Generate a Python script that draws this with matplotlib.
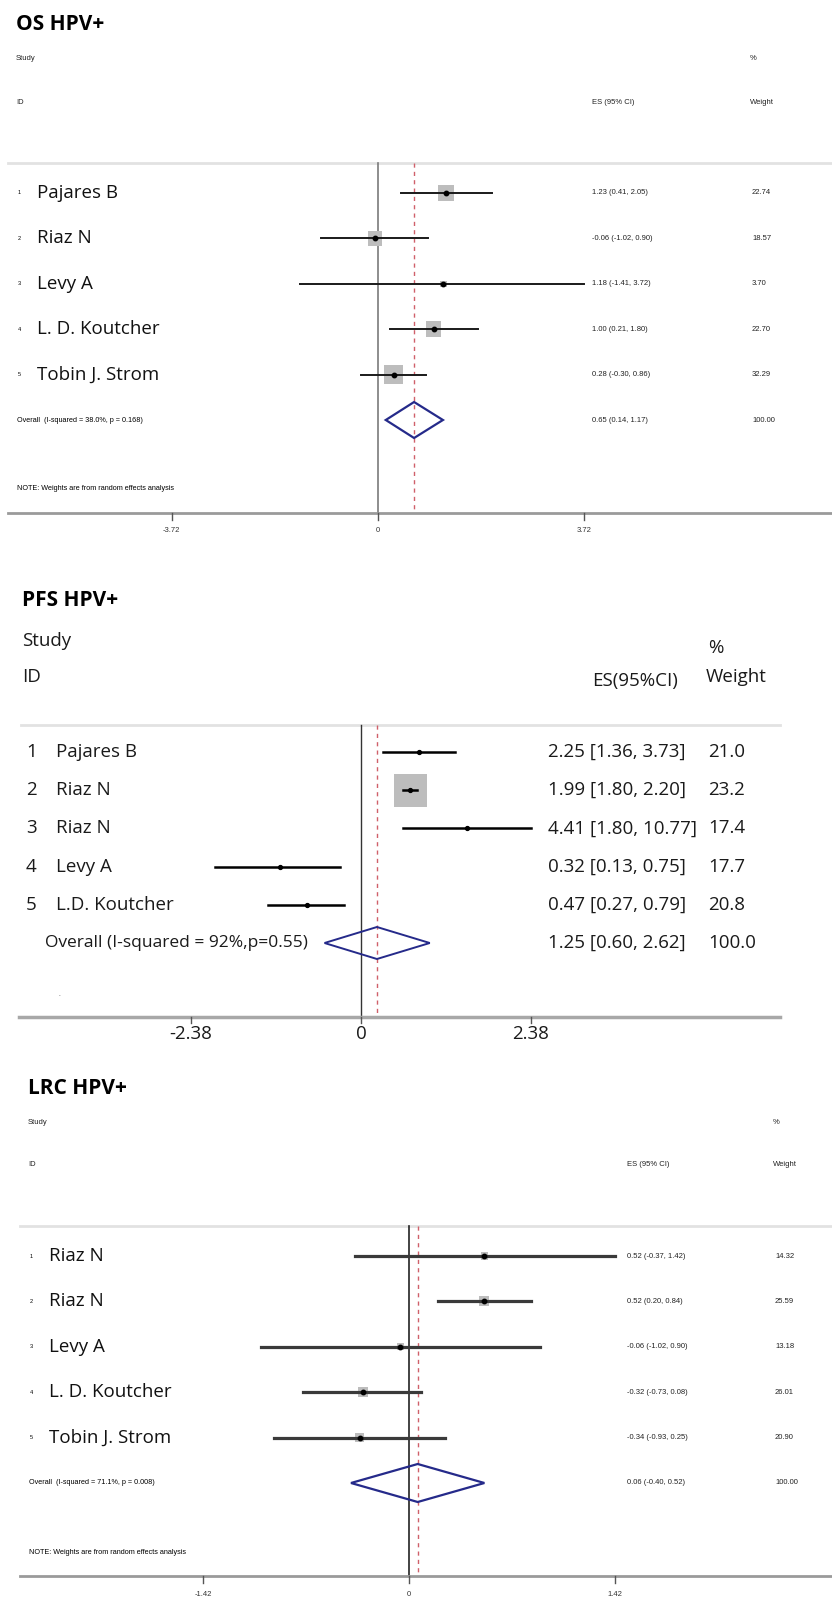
import numpy as np
import matplotlib.pyplot as plt
from matplotlib.patches import Polygon, Rectangle

W, H = 832, 1603

# OS HPV+ (linear scale)
os_study = ["Pajares B", "Riaz N", "Levy A", "L. D. Koutcher", "Tobin J. Strom"]
os_es = [1.23, -0.06, 1.18, 1.00, 0.28]
os_lo = [0.41, -1.02, -1.41, 0.21, -0.30]
os_hi = [2.05, 0.90, 3.72, 1.80, 0.86]
os_weight = [22.74, 18.57, 3.70, 22.70, 32.29]
os_overall = [0.65, 0.14, 1.17]
os_overall_text = "Overall  (I-squared = 38.0%, p = 0.168)"
os_ticks = [-3.72, 0, 3.72]

# PFS HPV+ (ratios, drawn on log scale)
pfs_study = ["Pajares B", "Riaz N", "Riaz N", "Levy A", "L.D. Koutcher"]
pfs_es = [2.25, 1.99, 4.41, 0.32, 0.47]
pfs_lo = [1.36, 1.80, 1.80, 0.13, 0.27]
pfs_hi = [3.73, 2.20, 10.77, 0.75, 0.79]
pfs_weight = [21.0, 23.2, 17.4, 17.7, 20.8]
pfs_overall = [1.25, 0.60, 2.62]
pfs_overall_text = "Overall (I-squared = 92%,p=0.55)"
pfs_ticks = [-2.38, 0, 2.38]

# LRC HPV+ (linear scale)
lrc_study = ["Riaz N", "Riaz N", "Levy A", "L. D. Koutcher", "Tobin J. Strom"]
lrc_es = [0.52, 0.52, -0.06, -0.32, -0.34]
lrc_lo = [-0.37, 0.20, -1.02, -0.73, -0.93]
lrc_hi = [1.42, 0.84, 0.90, 0.08, 0.25]
lrc_weight = [14.32, 25.59, 13.18, 26.01, 20.90]
lrc_overall = [0.06, -0.40, 0.52]
lrc_overall_text = "Overall  (I-squared = 71.1%, p = 0.008)"
lrc_ticks = [-1.42, 0, 1.42]

NOTE = "NOTE: Weights are from random effects analysis"
NAVY = "#252a8a"
RED = "#d0606a"
BOXC = "#bdbdbd"
SMALL = ["Liberation Sans", "DejaVu Sans"]
BIG = ["Open Sans", "DejaVu Sans"]

fig = plt.figure(figsize=(W / 100, H / 100), dpi=100)


def new_axes(x0, ppu):
    ax = fig.add_axes([0, 0, 1, 1])
    ax.set_xlim(-x0 / ppu, (W - x0) / ppu)
    ax.set_ylim(H, 0)
    ax.axis("off")
    ax.patch.set_alpha(0)
    return ax


def stata_panel(title, study, es, lo, hi, weight, overall, overall_text, ticks,
                x0, ppu, top, ci_color, ci_lw, box_k, line_left, dmd_h, zero_color,
                col_es, col_w):
    ax = new_axes(x0, ppu)
    px = lambda p: (p - x0) / ppu
    rows = top + 168 + 45.4 * np.arange(len(study) + 1)
    ytop, yaxis = top + 138, top + 488
    small = dict(fontsize=5.5, family=SMALL, va="center", color="#222222")

    ax.text(px(line_left + 8), top, title, fontsize=15, fontweight="bold", family=BIG,
            va="center")
    ax.text(px(line_left + 8), top + 34, "Study", **small)
    ax.text(px(col_w - 2), top + 34, "%", **small)
    ax.text(px(line_left + 8), top + 77, "ID", **small)
    ax.text(px(col_es), top + 77, "ES (95% CI)", **small)
    ax.text(px(col_w - 2), top + 77, "Weight", **small)

    ax.plot([px(line_left), px(W)], [ytop, ytop], color="#e2e2e2", lw=2)
    ax.plot([0, 0], [ytop, yaxis], color=zero_color, lw=1.2)
    ax.plot([overall[0]] * 2, [ytop, yaxis], color=RED, lw=1, ls=(0, (3, 3)))

    for i, name in enumerate(study):
        y = rows[i]
        side = box_k * np.sqrt(weight[i])
        ax.add_patch(Rectangle((es[i] - side / 2 / ppu, y - side / 2), side / ppu, side,
                               color=BOXC, lw=0, zorder=2))
        ax.plot([lo[i], hi[i]], [y, y], color=ci_color, lw=ci_lw, zorder=3)
        ax.plot(es[i], y, "o", color="black", ms=3.2, zorder=4)
        ax.text(px(line_left + 10), y, str(i + 1), fontsize=4, family=SMALL, va="center")
        ax.text(px(line_left + 29), y, name, fontsize=13.5, family=BIG, va="center",
                color="#111111")
        ax.text(px(col_es), y, "%.2f (%.2f, %.2f)" % (es[i], lo[i], hi[i]), **small)
        ax.text(px(col_w), y, "%.2f" % weight[i], **small)

    yo = rows[-1]
    m, l, h = overall
    ax.add_patch(Polygon([(l, yo), (m, yo - dmd_h), (h, yo), (m, yo + dmd_h)], closed=True,
                         fill=False, edgecolor=NAVY, lw=1.6, zorder=4))
    ax.text(px(line_left + 9), yo, overall_text, fontsize=5.2, family=SMALL, va="center")
    ax.text(px(col_es), yo, "%.2f (%.2f, %.2f)" % (m, l, h), **small)
    ax.text(px(col_w), yo, "100.00", **small)
    ax.text(px(line_left + 9), yaxis - 24, NOTE, fontsize=5.2, family=SMALL, va="center")

    ax.plot([px(line_left), px(W)], [yaxis, yaxis], color="#9a9a9a", lw=2)
    for t in ticks:
        ax.plot([t, t], [yaxis, yaxis + 7], color="#555555", lw=1)
        ax.text(t, yaxis + 18, "%g" % t, fontsize=5.5, family=SMALL, ha="center",
                va="center", color="#333333")


# OS
stata_panel("OS HPV+", os_study, os_es, os_lo, os_hi, os_weight, os_overall,
            os_overall_text, os_ticks, x0=378, ppu=55.5, top=25, ci_color="#1a1a1a",
            ci_lw=1.4, box_k=3.3, line_left=8, dmd_h=18, zero_color="#7a7a7a",
            col_es=592, col_w=752)

# LRC
stata_panel("LRC HPV+", lrc_study, lrc_es, lrc_lo, lrc_hi, lrc_weight, lrc_overall,
            lrc_overall_text, lrc_ticks, x0=409, ppu=145, top=1088, ci_color="#3a3a3a",
            ci_lw=2.3, box_k=2.0, line_left=20, dmd_h=19, zero_color="#222222",
            col_es=627, col_w=775)

# PFS, drawn on the log of the ratio
x0, ppu = 361, 71.4
ax = new_axes(x0, ppu)
px = lambda p: (p - x0) / ppu
rows = 752 + 38.2 * np.arange(len(pfs_study) + 1)
ytop, yaxis = 725, 1017
lg_es, lg_lo, lg_hi = np.log(pfs_es), np.log(pfs_lo), np.log(pfs_hi)
txt = dict(fontsize=13.5, family=BIG, va="center", color="#1a1a1a")

ax.text(px(22), 600, "PFS HPV+", fontsize=15, fontweight="bold", family=BIG, va="center")
ax.text(px(22), 641, "Study", **txt)
ax.text(px(708), 648, "%", **txt)
ax.text(px(22), 677, "ID", **txt)
ax.text(px(592), 681, "ES(95%CI)", **txt)
ax.text(px(706), 677, "Weight", **txt)

ax.plot([px(21), px(780)], [ytop, ytop], color="#e2e2e2", lw=2)
ax.plot([0, 0], [ytop, yaxis], color="#333333", lw=1)
ax.plot([np.log(pfs_overall[0])] * 2, [ytop, yaxis], color=RED, lw=1, ls=(0, (3, 3)))

for i, name in enumerate(pfs_study):
    y = rows[i]
    if pfs_weight[i] == max(pfs_weight):
        side = 33
        ax.add_patch(Rectangle((lg_es[i] - side / 2 / ppu, y - side / 2), side / ppu, side,
                               color=BOXC, lw=0, zorder=2))
    ax.plot([lg_lo[i], lg_hi[i]], [y, y], color="black", lw=1.8, zorder=3)
    ax.plot(lg_es[i], y, "o", color="black", ms=2.8, zorder=4)
    ax.text(px(26), y, str(i + 1), **txt)
    ax.text(px(56), y, name, **txt)
    ax.text(px(548), y, "%.2f [%.2f, %.2f]" % (pfs_es[i], pfs_lo[i], pfs_hi[i]), **txt)
    ax.text(px(708), y, "%.1f" % pfs_weight[i], **txt)

yo = rows[-1]
m, l, h = np.log(pfs_overall)
ax.add_patch(Polygon([(l, yo), (m, yo - 16), (h, yo), (m, yo + 16)], closed=True,
                     fill=False, edgecolor=NAVY, lw=1.4, zorder=4))
ax.text(px(45), yo, pfs_overall_text, fontsize=12.5, family=BIG, va="center",
        color="#1a1a1a")
ax.text(px(548), yo, "%.2f [%.2f, %.2f]" % tuple(pfs_overall), **txt)
ax.text(px(708), yo, "100.0", **txt)
ax.text(px(58), yo + 50, ".", fontsize=8, color="#999999", va="center")

ax.plot([px(19), px(780)], [yaxis, yaxis], color="#a8a8a8", lw=2.5)
for t in pfs_ticks:
    ax.plot([t, t], [yaxis, yaxis + 6], color="#555555", lw=1)
    ax.text(t, yaxis + 17, "%g" % t, fontsize=13.5, family=BIG, ha="center", va="center",
            color="#1a1a1a")

fig.savefig("out.png", dpi=100, facecolor="white")
